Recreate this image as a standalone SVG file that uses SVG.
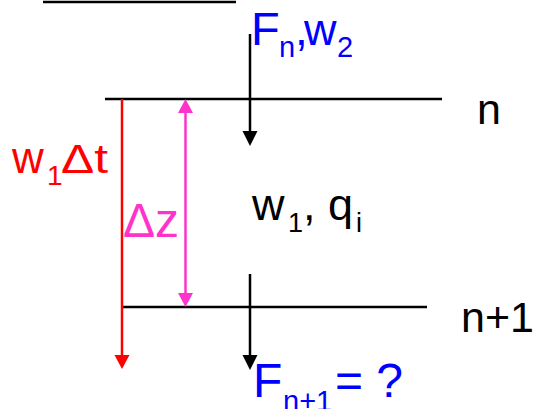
<svg xmlns="http://www.w3.org/2000/svg" width="537" height="409" viewBox="0 0 537 409">
<style>
text{font-family:"Liberation Sans",Arial,sans-serif}
.k{fill:#000}.b{fill:#0000FF}.r{fill:#FF0000}.m{fill:#FF33CC}
.ln{stroke:#000;stroke-width:2.5;fill:none}
</style>
<rect width="537" height="409" fill="#fff"/>
<g id="layers">
<line class="ln" x1="43" y1="2" x2="236" y2="2"/>
<line class="ln" x1="105" y1="99" x2="442" y2="99"/>
<line class="ln" x1="122" y1="307" x2="427" y2="307"/>
</g>
<g id="connectors">
<line x1="122" y1="99" x2="122" y2="355" stroke="#FF0000" stroke-width="2.5"/>
<path d="M114.5,355L129.5,355L122,369z" fill="#FF0000"/>
<line x1="185.5" y1="113" x2="185.5" y2="293" stroke="#FF33CC" stroke-width="2.5"/>
<path d="M178,113L193,113L185.5,99z" fill="#FF33CC"/>
<path d="M178,293L193,293L185.5,307z" fill="#FF33CC"/>
<line x1="250" y1="34" x2="250" y2="131" stroke="#000" stroke-width="2.5"/>
<path d="M242.5,131L257.5,131L250,146z" fill="#000"/>
<line x1="250" y1="274" x2="250" y2="355" stroke="#000" stroke-width="2.5"/>
<path d="M242.5,355L257.5,355L250,370z" fill="#000"/>
</g>
<g id="label-Fn">
<text class="b" x="251" y="45" font-size="47">F</text>
<text class="b" x="279" y="57" font-size="29">n</text>
<text class="b" x="295" y="45" font-size="46">,</text>
<text class="b" x="304" y="45" font-size="45">w</text>
<text class="b" x="337" y="57" font-size="29">2</text>
</g>
<g id="label-n"><text class="k" x="477" y="124" font-size="43">n</text></g>
<g id="label-n1"><text class="k" x="461" y="332" font-size="43">n+1</text></g>
<g id="label-w1dt">
<text class="r" x="12" y="173" font-size="44">w</text>
<text class="r" x="47" y="185" font-size="28">1</text>
<text class="r" x="61" y="173" font-size="41" textLength="47" lengthAdjust="spacingAndGlyphs">Δt</text>
</g>
<g id="label-dz"><text class="m" x="123" y="237" font-size="48">Δz</text></g>
<g id="label-w1qi">
<text class="k" x="252" y="220" font-size="45">w</text>
<text class="k" x="288" y="232" font-size="27">1</text>
<text class="k" x="303" y="220" font-size="45">, q</text>
<text class="k" x="356" y="232" font-size="27">i</text>
</g>
<g id="label-Fn1">
<text class="b" x="253" y="397" font-size="48">F</text>
<text class="b" x="283" y="411" font-size="29">n+1</text>
<text class="b" x="335" y="397" font-size="48">= ?</text>
</g>
</svg>
